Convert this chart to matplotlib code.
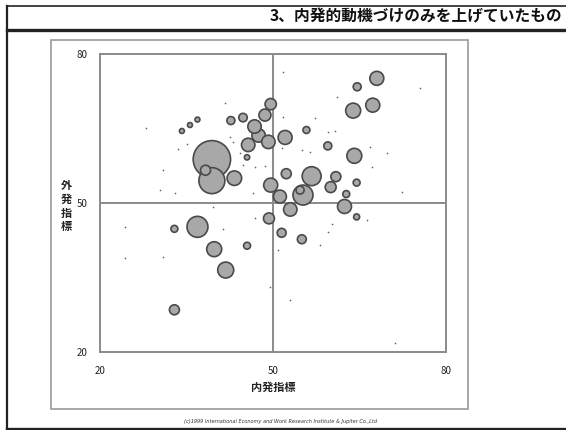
import numpy as np
import matplotlib
matplotlib.use("Agg")
import matplotlib.pyplot as plt
from matplotlib.lines import Line2D
from matplotlib.patches import Rectangle

plt.rcParams['font.family'] = ['Noto Sans CJK JP', 'DejaVu Sans']

# --- data ---------------------------------------------------------------
title = "3、内発的動機づけのみを上げていたもの"
x_label = "内発指標"
y_label = "外発指標"
credit = "(c)1999 International Economy and Work Research Institute & Jupiter Co.,Ltd"
tick_values = [20, 50, 80]

# bubbles: intrinsic index, extrinsic index, weight (bubble area)
bubble_x = [39.4, 39.4, 38.3, 43.3, 34.2, 35.6, 36.9, 42.7, 44.8, 49.6,
            48.6, 46.8, 47.5, 49.2, 45.7, 45.5, 52.1, 52.3, 49.6, 51.2,
            53.0, 68.0, 64.6, 63.9, 67.3, 55.8, 59.5, 64.1, 56.7, 60.9,
            60.0, 64.5, 55.2, 54.7, 62.7, 62.4, 64.5, 36.9, 32.9, 39.8,
            45.5, 41.8, 32.9, 49.3, 51.5, 55.0]
bubble_y = [58.8, 54.5, 56.6, 55.0, 64.5, 65.7, 66.8, 66.6, 67.2, 69.9,
            67.7, 65.4, 63.6, 62.3, 61.7, 59.2, 63.2, 55.9, 53.6, 51.3,
            48.7, 75.1, 73.4, 68.6, 69.7, 64.7, 61.5, 59.5, 55.4, 55.3,
            53.2, 54.1, 51.6, 52.6, 51.8, 49.3, 47.2, 45.2, 44.8, 40.7,
            41.4, 36.5, 28.5, 46.9, 44.0, 42.7]
bubble_w = [350, 169, 25, 53, 6, 6, 6, 16, 18, 32,
            36, 45, 45, 45, 45, 7, 49, 25, 49, 42,
            45, 49, 16, 56, 49, 12, 16, 56, 90, 25,
            30, 12, 100, 16, 12, 49, 9, 110, 12, 56,
            12, 64, 25, 30, 20, 20]

# single responses (tiny points)
dot_x = [28.0, 41.7, 33.5, 35.1, 30.9, 33.0, 30.4, 42.5, 43.1, 44.8,
         44.3, 46.5, 24.3, 24.3, 30.9, 39.6, 41.3, 46.9, 60.2, 59.5,
         58.2, 53.0, 50.9, 71.2, 49.5, 66.3, 51.7, 75.5, 61.1, 51.7,
         57.3, 59.5, 60.8, 55.0, 56.4, 69.8, 66.8, 67.2, 72.4, 46.9,
         48.6, 51.6]
dot_y = [65.1, 70.1, 60.9, 61.9, 56.6, 52.0, 52.6, 63.3, 62.3, 57.7,
         60.1, 52.0, 45.2, 38.9, 39.1, 49.2, 44.8, 47.0, 45.8, 44.2,
         41.5, 30.5, 40.5, 21.8, 33.1, 46.6, 76.4, 73.2, 71.3, 67.3,
         67.1, 64.3, 64.5, 60.7, 60.3, 60.1, 61.3, 57.3, 52.2, 57.3,
         57.5, 61.1]

# --- figure -------------------------------------------------------------
W, H = 566, 430
fig = plt.figure(figsize=(W / 100, H / 100), dpi=100)
fig.patch.set_facecolor("white")


def fx(px):
    return px / W


def fy(py):
    return 1 - py / H


# page frame
for (x0, y0, x1, y1, lw) in [(7, 6, 566, 6, 1.2), (7, 6, 7, 429, 1.6),
                              (7, 29.5, 566, 29.5, 2.4), (7, 428.5, 566, 428.5, 2.4)]:
    fig.add_artist(Line2D([fx(x0), fx(x1)], [fy(y0), fy(y1)],
                          color="#222222", lw=lw, transform=fig.transFigure))

# chart panel
fig.add_artist(Rectangle((fx(51), fy(409)), fx(468) - fx(51), fy(40) - fy(409),
                         fill=False, edgecolor="#9a9a9a", lw=1.2,
                         transform=fig.transFigure))

fig.text(fx(562), fy(16), title, ha="right", va="center", fontsize=11.3,
         fontweight="bold", color="#111111")

ax = fig.add_axes([fx(100), fy(352), fx(446) - fx(100), fy(54) - fy(352)])
ax.set_xlim(20, 80)
ax.set_ylim(20, 80)
for s in ax.spines.values():
    s.set_color("#8a8a8a")
    s.set_linewidth(1.4)

ax.axvline(50, color="#8a8a8a", lw=1.4, zorder=1)
ax.axhline(50, color="#8a8a8a", lw=1.4, zorder=1)

bx = np.array(bubble_x)
by = np.array(bubble_y)
bw = np.array(bubble_w, dtype=float)
order = np.argsort(-bw)
ax.scatter(bx[order], by[order], s=bw[order] * 2.07, facecolor="#a8a8a8",
           edgecolor="#4a4a4a", linewidth=1.2, zorder=3)
ax.scatter(dot_x, dot_y, s=1.5, color="#666666", linewidth=0, zorder=2)

ax.set_xticks(tick_values)
ax.set_yticks(tick_values)
ax.set_xticklabels([str(v) for v in tick_values])
ax.set_yticklabels([str(v) for v in tick_values])
ax.tick_params(length=0, labelsize=7, colors="#222222")
ax.tick_params(axis="x", pad=10)
ax.tick_params(axis="y", pad=9)

fig.text(fx(273), fy(387), x_label, ha="center", va="center", fontsize=8,
         fontweight="bold", color="#222222")
for i, ch in enumerate(y_label):
    fig.text(fx(66), fy(186 + i * 13.5), ch, ha="center", va="center",
             fontsize=8, fontweight="bold", color="#222222")

fig.text(fx(280), fy(421), credit, ha="center", va="center", fontsize=3.6,
         style="italic", color="#333333", family=["DejaVu Sans"])

fig.savefig("out.png", dpi=100)
